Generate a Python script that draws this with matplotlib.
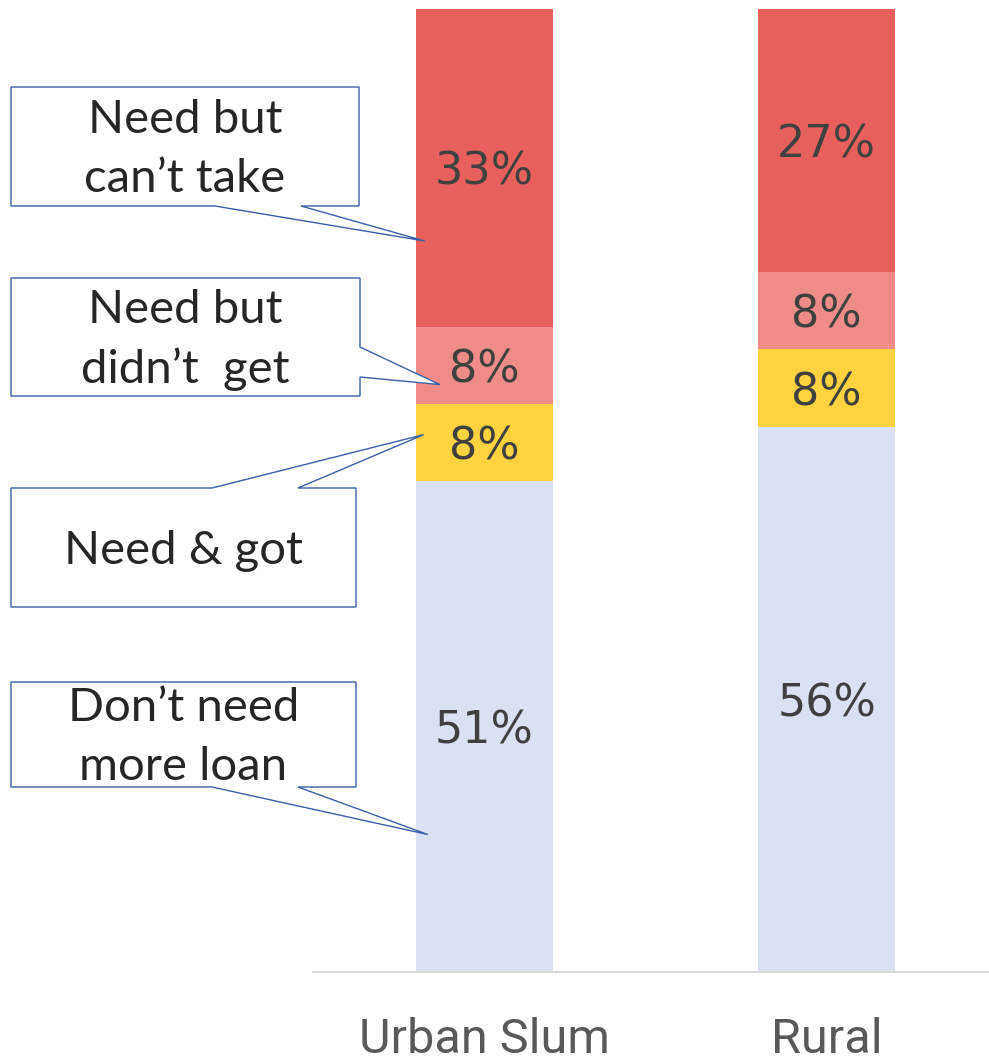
import matplotlib
matplotlib.use("Agg")
import matplotlib.pyplot as plt
from matplotlib.patches import Polygon
from matplotlib.transforms import blended_transform_factory
import numpy as np

# Share of households by loan need (percent, rounded)
categories = ["Urban Slum", "Rural"]
segments = ["Don\u2019t need\nmore loan", "Need & got", "Need but\ndidn\u2019t  get", "Need but\ncan\u2019t take"]
dont_need = [51, 56]
need_got = [8, 8]
need_didnt_get = [8, 8]
need_cant_take = [33, 27]

series = [dont_need, need_got, need_didnt_get, need_cant_take]
colors = ["#D9E1F2", "#FFD33F", "#EE8C8A", "#E8605C"]

W, H = 989, 1061
fig = plt.figure(figsize=(W / 100, H / 100), dpi=100)
fig.patch.set_facecolor("white")

ax = fig.add_axes([313 / W, 89 / H, 685 / W, 963 / H])
ax.set_xlim(-0.5, 1.5)
ax.set_ylim(0, 100)

# 100% stacked: each column scaled to its own total
vals = np.array(series, dtype=float)
totals = vals.sum(axis=0)
shares = vals / totals * 100
x = np.arange(len(categories))
bottom = np.zeros(len(categories))
for i, (row, raw) in enumerate(zip(shares, vals)):
    ax.bar(x, row, width=0.4, bottom=bottom, color=colors[i], linewidth=0)
    for xi, b, h, v in zip(x, bottom, row, raw):
        ax.text(xi, b + h / 2, f"{int(v)}%", ha="center", va="center_baseline",
                fontsize=32, color="#404040", family="DejaVu Sans")
    bottom += row

for s in ["left", "right", "top"]:
    ax.spines[s].set_visible(False)
ax.spines["bottom"].set_color("#D9D9D9")
ax.spines["bottom"].set_linewidth(1.5)
ax.set_yticks([])
ax.set_xticks([])

# Category names below the baseline
lab_tr = blended_transform_factory(ax.transData, fig.transFigure)
for xi, name in zip(x, categories):
    ax.text(xi, 1 - 1053 / H, name, transform=lab_tr, ha="center", va="baseline",
            fontsize=35, color="#595959", family="Roboto")

# Callout boxes (pixel layout, y measured from top) pointing into the first column
edge = "#3B5FA8"


def px(xp, yp):
    return (xp / W, 1 - yp / H)


def data_to_px(xd, yd):
    disp = ax.transData.transform((xd, yd))
    fx, fy = fig.transFigure.inverted().transform(disp)
    return fx * W, (1 - fy) * H


urban_bottoms = np.concatenate([[0], np.cumsum(shares[:, 0])])

callouts = [
    # label, box (x0, y0, x1, y1), side, base points, tip (x offset, segment, fraction of segment)
    (segments[3], (11, 87, 359, 206), "bottom", (215, 301), (-0.174, 3, 0.27)),
    (segments[2], (11, 278, 360, 396), "right", (347, 377), (-0.13, 2, 0.25)),
    (segments[1], (11, 488, 356, 607), "top", (212, 298), (-0.177, 1, 0.6)),
    (segments[0], (11, 682, 356, 787), "bottom", (212, 298), (-0.165, 0, 0.28)),
]

for label, (x0, y0, x1, y1), side, (b0, b1), (tx, seg, frac) in callouts:
    yd = urban_bottoms[seg] + frac * shares[seg, 0]
    tpx, tpy = data_to_px(tx, yd)
    if side == "bottom":
        pts = [(x0, y0), (x1, y0), (x1, y1), (b1, y1), (tpx, tpy), (b0, y1), (x0, y1)]
    elif side == "top":
        pts = [(x0, y0), (b0, y0), (tpx, tpy), (b1, y0), (x1, y0), (x1, y1), (x0, y1)]
    else:  # right
        pts = [(x0, y0), (x1, y0), (x1, b0), (tpx, tpy), (x1, b1), (x1, y1), (x0, y1)]
    poly = Polygon([px(a, b) for a, b in pts], closed=True, transform=fig.transFigure,
                   facecolor="white", edgecolor=edge, linewidth=1.0, zorder=5)
    fig.add_artist(poly)
    cx, cy = px((x0 + x1) / 2, (y0 + y1) / 2 + 3)
    fig.text(cx, cy, label, ha="center", va="center", fontsize=34, color="#262626",
             family="Lato", linespacing=1.48, zorder=6)

fig.savefig("out.png", dpi=100, facecolor="white")
